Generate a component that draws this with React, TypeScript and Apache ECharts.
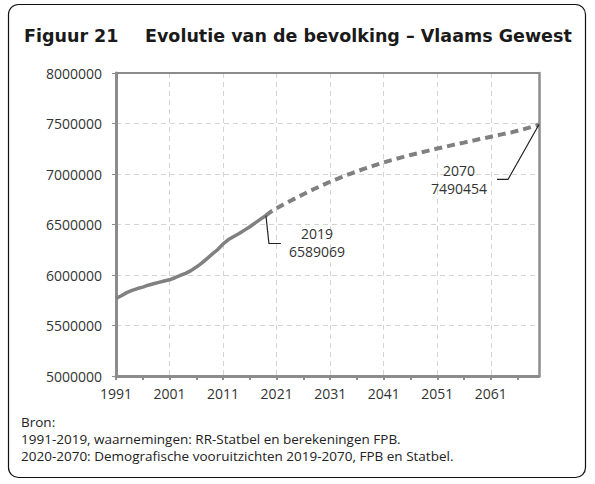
import React, { useEffect, useRef } from "react";
import * as echarts from "echarts";

const FIRST_YEAR = 1991;
const LAST_YEAR = 2070;
const years: string[] = [];
for (let y = FIRST_YEAR; y <= LAST_YEAR; y++) years.push(String(y));

// Observed population 1991-2019
const observed: number[] = [
  5768925, 5794347, 5825544, 5847022, 5866106, 5880357, 5898824, 5912893, 5926838, 5940251,
  5952552, 5972781, 5995553, 6016024, 6043161, 6078600, 6117440, 6161600, 6208877, 6251983,
  6306638, 6350765, 6381859, 6410705, 6444127, 6477804, 6516011, 6552967, 6589069,
];

// Projection 2019-2070
const projected: number[] = [
  6589069, 6629143, 6660000, 6690000, 6718000, 6746000, 6773000, 6800000, 6826000, 6851000,
  6876000, 6900000, 6923000, 6945000, 6966000, 6987000, 7007000, 7026000, 7045000, 7063000,
  7081000, 7098000, 7114000, 7130000, 7145000, 7160000, 7174000, 7188000, 7201000, 7214000,
  7227000, 7240000, 7252000, 7264000, 7276000, 7288000, 7300000, 7311000, 7323000, 7334000,
  7346000, 7357000, 7369000, 7380000, 7392000, 7404000, 7414000, 7428000, 7442000, 7457000,
  7473000, 7490454,
];

const Y_MIN = 5000000;
const Y_MAX = 8000000;
const Y_STEP = 500000;

const titleNumber = "Figuur 21";
const titleText = "Evolutie van de bevolking – Vlaams Gewest";
const sourceLines = [
  "Bron:",
  "1991-2019, waarnemingen: RR-Statbel en berekeningen FPB.",
  "2020-2070: Demografische vooruitzichten 2019-2070, FPB en Statbel.",
];

const observedData = years.map((_, i) => (i < observed.length ? observed[i] : null));
const projStart = years.length - projected.length;
const projectedData = years.map((_, i) => (i >= projStart ? projected[i - projStart] : null));

const LINE_COLOR = "#808080";
const AXIS_COLOR = "#8c8c8c";
const TEXT_COLOR = "#333333";
const FONT = "'Open Sans', 'Noto Sans', sans-serif";
const TITLE_FONT = "'DejaVu Sans', Verdana, sans-serif";

export default function App() {
  const ref = useRef<HTMLDivElement>(null);
  useEffect(() => {
    if (!ref.current) return;
    const chart = echarts.init(ref.current, undefined, { renderer: "svg" });
    chart.setOption({
      animation: false,
      backgroundColor: "#ffffff",
      textStyle: { fontFamily: FONT },
      grid: { left: 116, right: 56, top: 73, bottom: 108 },
      xAxis: [
        {
          type: "category",
          data: years,
          boundaryGap: false,
          axisLine: { lineStyle: { color: AXIS_COLOR, width: 3 } },
          axisTick: { show: true, interval: 4, length: 4, lineStyle: { color: AXIS_COLOR, width: 2 } },
          axisLabel: { interval: 9, color: TEXT_COLOR, fontSize: 14, fontFamily: FONT, margin: 10 },
          splitLine: {
            show: true,
            interval: 9,
            lineStyle: { color: "#d4d4d4", type: [5, 4], width: 1 },
          },
        },
        {
          type: "category",
          data: years,
          boundaryGap: false,
          position: "top",
          axisLine: { show: true, lineStyle: { color: AXIS_COLOR, width: 2 } },
          axisTick: { show: false },
          axisLabel: { show: false },
          splitLine: { show: false },
        },
      ],
      yAxis: [
        {
          type: "value",
          min: Y_MIN,
          max: Y_MAX,
          interval: Y_STEP,
          axisLine: { show: true, lineStyle: { color: AXIS_COLOR, width: 3 } },
          axisTick: { show: true, length: 4, lineStyle: { color: AXIS_COLOR, width: 1 } },
          axisLabel: {
            color: TEXT_COLOR,
            fontSize: 14,
            fontFamily: FONT,
            margin: 14,
            formatter: (v: number) => String(v),
          },
          splitLine: { show: true, lineStyle: { color: "#d4d4d4", type: [5, 4], width: 1 } },
        },
        {
          type: "value",
          min: Y_MIN,
          max: Y_MAX,
          interval: Y_STEP,
          position: "right",
          axisLine: { show: true, lineStyle: { color: AXIS_COLOR, width: 2.5 } },
          axisTick: { show: false },
          axisLabel: { show: false },
          splitLine: { show: false },
        },
      ],
      series: [
        {
          type: "line",
          data: observedData,
          showSymbol: false,
          symbol: "none",
          lineStyle: { color: LINE_COLOR, width: 3.5 },
          z: 3,
        },
        {
          type: "line",
          data: projectedData,
          showSymbol: false,
          symbol: "none",
          lineStyle: { color: LINE_COLOR, width: 4, type: [8, 5] },
          z: 3,
        },
      ],
    });

    const i2019 = observed.length - 1;
    const i2070 = years.length - 1;
    const p1 = chart.convertToPixel({ xAxisIndex: 0, yAxisIndex: 0 }, [i2019, observed[i2019]]) as number[];
    const p2 = chart.convertToPixel({ xAxisIndex: 0, yAxisIndex: 0 }, [i2070, projected[projected.length - 1]]) as number[];

    const fmt = (v: number) => String(Math.round(v));

    chart.setOption({
      graphic: [
        {
          type: "rect",
          shape: { x: 8.5, y: 4.5, width: 577, height: 473, r: 10 },
          style: { fill: "none", stroke: "#111", lineWidth: 1.2 },
          silent: true,
          z: 0,
        },
        {
          type: "text",
          x: 24,
          y: 36,
          style: {
            text: titleNumber,
            font: `bold 17.5px ${TITLE_FONT}`,
            fill: "#1a1a1a",
            verticalAlign: "middle",
          },
        },
        {
          type: "text",
          x: 145,
          y: 36,
          style: {
            text: titleText,
            font: `bold 17.5px ${TITLE_FONT}`,
            fill: "#1a1a1a",
            verticalAlign: "middle",
          },
        },
        ...sourceLines.map((t, k) => ({
          type: "text",
          x: 21,
          y: 422 + k * 17,
          style: { text: t, font: `13.5px ${FONT}`, fill: "#222", verticalAlign: "middle" },
        })),
        {
          type: "polyline",
          shape: {
            points: [
              [p1[0], p1[1]],
              [p1[0] + 3, p1[1] + 28],
              [p1[0] + 15, p1[1] + 28],
            ],
          },
          style: { stroke: "#222", lineWidth: 1.2, fill: "none" },
          z: 10,
        },
        {
          type: "text",
          x: p1[0] + 51,
          y: p1[1] + 27,
          style: {
            text: `${years[i2019]}\n${fmt(observed[i2019])}`,
            font: `14px ${FONT}`,
            lineHeight: 18,
            fill: TEXT_COLOR,
            align: "center",
            verticalAlign: "middle",
          },
          z: 10,
        },
        {
          type: "polyline",
          shape: {
            points: [
              [p2[0], p2[1]],
              [p2[0] - 31, p2[1] + 55],
              [p2[0] - 42, p2[1] + 55],
            ],
          },
          style: { stroke: "#222", lineWidth: 1.2, fill: "none" },
          z: 10,
        },
        {
          type: "text",
          x: p2[0] - 80,
          y: p2[1] + 55,
          style: {
            text: `${years[i2070]}\n${fmt(projected[projected.length - 1])}`,
            font: `14px ${FONT}`,
            lineHeight: 18,
            fill: TEXT_COLOR,
            align: "center",
            verticalAlign: "middle",
          },
          z: 10,
        },
      ],
    });

    return () => chart.dispose();
  }, []);

  return (
    <div
      ref={ref}
      style={{ position: "fixed", left: 0, top: 0, width: 595, height: 484, background: "#fff" }}
    />
  );
}
